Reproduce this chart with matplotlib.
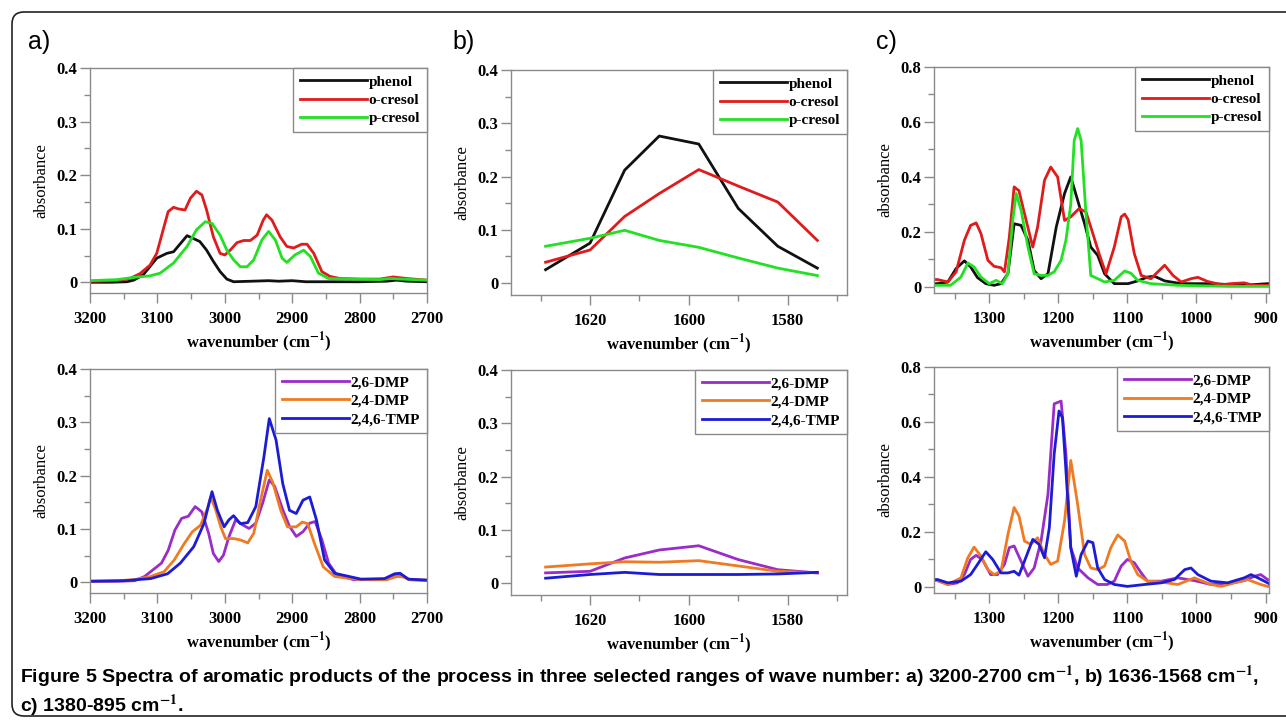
import matplotlib
matplotlib.use("Agg")
import matplotlib.pyplot as plt
from matplotlib.patches import FancyBboxPatch
from matplotlib.ticker import MultipleLocator

plt.rcParams['font.family'] = ['Liberation Serif', 'DejaVu Serif']
plt.rcParams['mathtext.fontset'] = 'stix'

# ---- panel a) 3200-2700 cm-1 ----
phenol_a_x = [3200, 3170, 3145, 3135, 3121, 3101, 3086, 3076, 3066, 3056, 3047, 3037, 3027, 3017, 3007, 2997,
              2987, 2960, 2935, 2920, 2900, 2880, 2850, 2800, 2760, 2745, 2730, 2700]
phenol_a_y = [0.0, 0.0, 0.001, 0.004, 0.014, 0.045, 0.054, 0.057, 0.072, 0.087, 0.082, 0.076, 0.060, 0.039, 0.020,
              0.006, 0.001, 0.002, 0.003, 0.002, 0.003, 0.001, 0.001, 0.001, 0.002, 0.004, 0.002, 0.001]
ocresol_a_x = [3200, 3160, 3141, 3126, 3111, 3101, 3091, 3084, 3076, 3069, 3059, 3051, 3042, 3034, 3027, 3017,
               3007, 3000, 2992, 2982, 2972, 2962, 2952, 2943, 2938, 2930, 2918, 2908, 2898, 2886, 2878, 2868,
               2856, 2844, 2829, 2799, 2770, 2750, 2730, 2700]
ocresol_a_y = [0.002, 0.003, 0.007, 0.016, 0.032, 0.054, 0.100, 0.132, 0.140, 0.137, 0.135, 0.157, 0.170, 0.163,
               0.135, 0.085, 0.054, 0.051, 0.060, 0.074, 0.078, 0.078, 0.088, 0.116, 0.126, 0.116, 0.085, 0.067,
               0.064, 0.071, 0.071, 0.054, 0.020, 0.011, 0.007, 0.006, 0.006, 0.010, 0.007, 0.004]
pcresol_a_x = [3200, 3160, 3136, 3111, 3096, 3076, 3056, 3042, 3029, 3019, 3007, 2997, 2987, 2977, 2967, 2957,
               2945, 2935, 2925, 2915, 2908, 2896, 2883, 2873, 2861, 2846, 2814, 2770, 2754, 2740, 2700]
pcresol_a_y = [0.003, 0.005, 0.009, 0.012, 0.017, 0.036, 0.067, 0.098, 0.113, 0.110, 0.088, 0.060, 0.042, 0.029,
               0.029, 0.042, 0.079, 0.095, 0.079, 0.045, 0.037, 0.051, 0.060, 0.048, 0.017, 0.007, 0.006, 0.005,
               0.007, 0.006, 0.004]

dmp26_a_x = [3200, 3160, 3134, 3119, 3104, 3094, 3084, 3074, 3064, 3054, 3044, 3034, 3024, 3017, 3009, 3002,
             2994, 2984, 2974, 2964, 2954, 2944, 2934, 2926, 2914, 2904, 2894, 2884, 2874, 2866, 2856, 2846,
             2834, 2809, 2760, 2745, 2735, 2726, 2700]
dmp26_a_y = [0.002, 0.002, 0.003, 0.011, 0.026, 0.036, 0.060, 0.098, 0.120, 0.124, 0.142, 0.132, 0.092, 0.054,
             0.039, 0.051, 0.085, 0.117, 0.108, 0.101, 0.111, 0.148, 0.192, 0.180, 0.136, 0.105, 0.086, 0.095,
             0.111, 0.114, 0.080, 0.036, 0.014, 0.005, 0.005, 0.013, 0.012, 0.005, 0.004]
dmp24_a_x = [3200, 3160, 3134, 3110, 3090, 3075, 3060, 3048, 3036, 3026, 3021, 3014, 3006, 2999, 2986, 2976,
             2966, 2957, 2947, 2937, 2929, 2917, 2907, 2894, 2885, 2877, 2867, 2854, 2837, 2800, 2760, 2745,
             2735, 2726, 2700]
dmp24_a_y = [0.002, 0.003, 0.005, 0.011, 0.020, 0.042, 0.073, 0.095, 0.107, 0.138, 0.160, 0.138, 0.104, 0.082,
             0.082, 0.079, 0.074, 0.092, 0.154, 0.210, 0.188, 0.135, 0.104, 0.104, 0.113, 0.110, 0.073, 0.029,
             0.011, 0.005, 0.005, 0.011, 0.010, 0.005, 0.004]
tmp_a_x = [3200, 3150, 3110, 3085, 3066, 3046, 3031, 3019, 3011, 3001, 2994, 2987, 2977, 2966, 2954, 2942,
           2934, 2924, 2914, 2904, 2894, 2884, 2874, 2864, 2852, 2837, 2798, 2763, 2748, 2740, 2728, 2700]
tmp_a_y = [0.002, 0.003, 0.007, 0.016, 0.036, 0.067, 0.110, 0.170, 0.135, 0.104, 0.117, 0.125, 0.110, 0.112,
           0.142, 0.235, 0.307, 0.267, 0.185, 0.135, 0.129, 0.154, 0.160, 0.117, 0.042, 0.017, 0.006, 0.007,
           0.016, 0.017, 0.006, 0.004]

# ---- panel b) 1636-1568 cm-1 ----
b_x = [1629, 1620, 1613, 1606, 1598, 1590, 1582, 1574]
phenol_b = [0.025, 0.075, 0.212, 0.276, 0.261, 0.140, 0.069, 0.028]
ocresol_b = [0.039, 0.062, 0.125, 0.168, 0.213, 0.182, 0.152, 0.080]
pcresol_b = [0.069, 0.084, 0.099, 0.080, 0.067, 0.047, 0.028, 0.014]
dmp26_b = [0.019, 0.022, 0.047, 0.062, 0.070, 0.044, 0.025, 0.019]
dmp24_b = [0.030, 0.036, 0.040, 0.039, 0.042, 0.032, 0.022, 0.019]
tmp_b = [0.009, 0.016, 0.020, 0.016, 0.016, 0.016, 0.017, 0.020]

# ---- panel c) 1380-895 cm-1 ----
phenol_c_x = [1380, 1375, 1360, 1348, 1336, 1327, 1317, 1305, 1293, 1283, 1273, 1264, 1254, 1244, 1235, 1225,
              1215, 1203, 1191, 1182, 1172, 1162, 1153, 1143, 1133, 1119, 1099, 1085, 1071, 1061, 1046, 1022,
              979, 931, 897, 895]
phenol_c_y = [0.012, 0.012, 0.018, 0.067, 0.095, 0.073, 0.034, 0.012, 0.006, 0.012, 0.048, 0.230, 0.224, 0.170,
              0.060, 0.030, 0.048, 0.218, 0.340, 0.400, 0.315, 0.230, 0.145, 0.115, 0.048, 0.012, 0.012, 0.022,
              0.036, 0.039, 0.022, 0.012, 0.012, 0.006, 0.012, 0.012]
ocresol_c_x = [1380, 1375, 1360, 1348, 1336, 1327, 1319, 1312, 1302, 1293, 1283, 1278, 1271, 1264, 1257, 1249,
               1237, 1230, 1220, 1211, 1201, 1191, 1182, 1170, 1160, 1150, 1141, 1131, 1119, 1109, 1104, 1099,
               1090, 1080, 1066, 1056, 1046, 1034, 1022, 1008, 998, 984, 964, 950, 931, 918, 897, 895]
ocresol_c_y = [0.027, 0.027, 0.018, 0.055, 0.170, 0.224, 0.233, 0.194, 0.097, 0.075, 0.070, 0.055, 0.180, 0.364,
               0.350, 0.267, 0.145, 0.218, 0.388, 0.436, 0.400, 0.242, 0.255, 0.285, 0.273, 0.194, 0.121, 0.048,
               0.145, 0.255, 0.265, 0.245, 0.121, 0.042, 0.030, 0.055, 0.079, 0.042, 0.018, 0.030, 0.035, 0.020,
               0.008, 0.012, 0.015, 0.006, 0.006, 0.006]
pcresol_c_x = [1380, 1375, 1356, 1341, 1331, 1322, 1312, 1300, 1290, 1281, 1273, 1266, 1261, 1254, 1244, 1235,
               1225, 1215, 1206, 1196, 1189, 1182, 1177, 1172, 1167, 1160, 1153, 1143, 1133, 1119, 1104, 1095,
               1085, 1066, 1027, 955, 897, 895]
pcresol_c_y = [0.006, 0.006, 0.006, 0.036, 0.087, 0.073, 0.036, 0.012, 0.024, 0.012, 0.048, 0.242, 0.340, 0.280,
               0.145, 0.048, 0.042, 0.042, 0.055, 0.097, 0.170, 0.300, 0.533, 0.576, 0.533, 0.267, 0.042, 0.030,
               0.018, 0.024, 0.058, 0.050, 0.024, 0.012, 0.006, 0.002, 0.002, 0.002]

dmp26_c_x = [1380, 1375, 1360, 1346, 1336, 1327, 1319, 1310, 1298, 1288, 1278, 1271, 1264, 1254, 1244, 1235,
             1225, 1215, 1206, 1196, 1189, 1182, 1172, 1157, 1143, 1129, 1119, 1109, 1100, 1090, 1080, 1071,
             1051, 1027, 1003, 979, 955, 931, 916, 907, 897, 895]
dmp26_c_y = [0.023, 0.023, 0.009, 0.015, 0.045, 0.100, 0.115, 0.100, 0.045, 0.045, 0.082, 0.143, 0.149, 0.094,
             0.039, 0.069, 0.167, 0.337, 0.666, 0.676, 0.484, 0.143, 0.069, 0.033, 0.009, 0.009, 0.021, 0.076,
             0.100, 0.088, 0.051, 0.021, 0.021, 0.033, 0.023, 0.009, 0.011, 0.023, 0.039, 0.045, 0.027, 0.025]
dmp24_c_x = [1380, 1375, 1360, 1341, 1331, 1322, 1312, 1302, 1293, 1283, 1273, 1264, 1257, 1249, 1240, 1230,
             1220, 1211, 1201, 1191, 1182, 1172, 1162, 1153, 1143, 1133, 1124, 1114, 1104, 1095, 1085, 1071,
             1051, 1027, 1003, 979, 964, 945, 926, 907, 897, 895]
dmp24_c_y = [0.023, 0.023, 0.009, 0.033, 0.106, 0.145, 0.112, 0.063, 0.045, 0.057, 0.191, 0.289, 0.258, 0.167,
             0.155, 0.179, 0.118, 0.082, 0.094, 0.240, 0.460, 0.300, 0.118, 0.069, 0.063, 0.076, 0.143, 0.189,
             0.167, 0.094, 0.045, 0.021, 0.018, 0.009, 0.033, 0.009, 0.002, 0.015, 0.027, 0.009, 0.002, 0.002]
tmp_c_x = [1380, 1375, 1360, 1341, 1327, 1317, 1305, 1295, 1283, 1273, 1264, 1257, 1249, 1237, 1228, 1220,
           1213, 1206, 1199, 1194, 1189, 1182, 1174, 1167, 1157, 1150, 1143, 1133, 1119, 1100, 1075, 1051,
           1032, 1017, 1008, 998, 979, 955, 931, 921, 911, 897, 895]
tmp_c_y = [0.027, 0.027, 0.015, 0.021, 0.045, 0.082, 0.128, 0.100, 0.051, 0.051, 0.057, 0.043, 0.094, 0.173,
           0.155, 0.106, 0.216, 0.484, 0.640, 0.615, 0.423, 0.143, 0.039, 0.118, 0.167, 0.161, 0.069, 0.027,
           0.009, 0.002, 0.009, 0.015, 0.027, 0.063, 0.069, 0.045, 0.021, 0.015, 0.033, 0.045, 0.033, 0.015,
           0.012]

top_labels = ['phenol', 'o-cresol', 'p-cresol']
top_colors = ['#111111', '#e01b1b', '#22e022']
bot_labels = ['2,6-DMP', '2,4-DMP', '2,4,6-TMP']
bot_colors = ['#9a2cc8', '#f07a22', '#1c1cd6']

GRAY = '#8a8a8a'


def style_axes(ax, xlim, xmaj, xmin, ylim, ymaj, ymin, yfmt):
    ax.set_xlim(*xlim)
    ax.set_ylim(*ylim)
    ax.xaxis.set_major_locator(MultipleLocator(xmaj))
    ax.xaxis.set_minor_locator(MultipleLocator(xmin))
    ax.yaxis.set_major_locator(MultipleLocator(ymaj))
    ax.yaxis.set_minor_locator(MultipleLocator(ymin))
    ax.yaxis.set_major_formatter(yfmt)
    for s in ax.spines.values():
        s.set_color(GRAY)
        s.set_linewidth(1.0)
    ax.tick_params(which='major', direction='out', length=7.2, width=1, color=GRAY, labelsize=12)
    ax.tick_params(axis='x', which='major', pad=6)
    ax.tick_params(axis='y', which='major', pad=2)
    ax.tick_params(which='minor', direction='out', length=4, width=1, color=GRAY)
    for lab in ax.get_xticklabels() + ax.get_yticklabels():
        lab.set_fontweight('bold')
    ax.set_ylabel('absorbance', fontsize=12, labelpad=5)
    ax.set_xlabel('wavenumber (cm$^{\\mathbf{-1}}$)', fontsize=12, fontweight='bold', labelpad=2)


def add_legend(ax):
    leg = ax.legend(loc='upper right', borderaxespad=0, fancybox=False, edgecolor=GRAY, framealpha=1,
                    handlelength=4.4, handletextpad=0.1, labelspacing=0.3, borderpad=0.45,
                    prop={'family': 'Liberation Serif', 'size': 11, 'weight': 'bold'})
    leg.get_frame().set_linewidth(1.0)


def fmt_a(v, pos):
    return '0' if abs(v) < 1e-9 else f'{v:.1f}'


fig = plt.figure(figsize=(12.86, 7.2), dpi=100)

border = FancyBboxPatch((12, 4), 1300, 704, boxstyle='round,pad=0,rounding_size=12',
                        transform=None, facecolor='none', edgecolor='#222222', linewidth=1.2)
fig.patches.append(border)

W = 1286.0
H = 720.0


def rect(l, r, t, b):
    return [l / W, 1 - b / H, (r - l) / W, (b - t) / H]


lw = 2.0

# a) top
ax = fig.add_axes(rect(90, 427, 68, 293))
for xs, ys, lab, c in zip([phenol_a_x, ocresol_a_x, pcresol_a_x], [phenol_a_y, ocresol_a_y, pcresol_a_y],
                          top_labels, top_colors):
    ax.plot(xs, ys, color=c, lw=lw, label=lab)
style_axes(ax, (3200, 2700), 100, 50, (-0.02, 0.4), 0.1, 0.05, fmt_a)
add_legend(ax)

# a) bottom
ax = fig.add_axes(rect(90, 427, 369, 593))
for xs, ys, lab, c in zip([dmp26_a_x, dmp24_a_x, tmp_a_x], [dmp26_a_y, dmp24_a_y, tmp_a_y],
                          bot_labels, bot_colors):
    ax.plot(xs, ys, color=c, lw=lw, label=lab)
style_axes(ax, (3200, 2700), 100, 50, (-0.02, 0.4), 0.1, 0.05, fmt_a)
add_legend(ax)

# b) top
ax = fig.add_axes(rect(511, 847, 70, 295))
for ys, lab, c in zip([phenol_b, ocresol_b, pcresol_b], top_labels, top_colors):
    ax.plot(b_x, ys, color=c, lw=lw, label=lab)
style_axes(ax, (1636, 1568), 20, 10, (-0.0225, 0.4), 0.1, 0.05, fmt_a)
add_legend(ax)

# b) bottom
ax = fig.add_axes(rect(511, 847, 370, 595))
for ys, lab, c in zip([dmp26_b, dmp24_b, tmp_b], bot_labels, bot_colors):
    ax.plot(b_x, ys, color=c, lw=lw, label=lab)
style_axes(ax, (1636, 1568), 20, 10, (-0.0225, 0.4), 0.1, 0.05, fmt_a)
add_legend(ax)

# c) top
ax = fig.add_axes(rect(934, 1269, 67, 293))
for xs, ys, lab, c in zip([phenol_c_x, ocresol_c_x, pcresol_c_x], [phenol_c_y, ocresol_c_y, pcresol_c_y],
                          top_labels, top_colors):
    ax.plot(xs, ys, color=c, lw=lw, label=lab)
style_axes(ax, (1380, 895), 100, 50, (-0.022, 0.8), 0.2, 0.1, fmt_a)
add_legend(ax)

# c) bottom
ax = fig.add_axes(rect(934, 1269, 367, 593))
for xs, ys, lab, c in zip([dmp26_c_x, dmp24_c_x, tmp_c_x], [dmp26_c_y, dmp24_c_y, tmp_c_y],
                          bot_labels, bot_colors):
    ax.plot(xs, ys, color=c, lw=lw, label=lab)
style_axes(ax, (1380, 895), 100, 50, (-0.022, 0.8), 0.2, 0.1, fmt_a)
add_legend(ax)

# panel letters
for x, s in [(28, 'a)'), (452, 'b)'), (876, 'c)')]:
    fig.text(x / W, 1 - 42 / H, s, fontsize=18, family='Liberation Sans', va='center', ha='left')

# caption, one text block of two lines
caption = ('Figure 5 Spectra of aromatic products of the process in three selected ranges of wave number: '
           'a) 3200-2700 cm$^{\\mathbf{-1}}$, b) 1636-1568 cm$^{\\mathbf{-1}}$,\n'
           'c) 1380-895 cm$^{\\mathbf{-1}}$.')
fig.text(20 / W, 1 - 664 / H, caption, fontsize=14, family='Liberation Sans', fontweight='bold',
         va='top', ha='left', linespacing=1.15)

fig.savefig('out.png', dpi=100)
